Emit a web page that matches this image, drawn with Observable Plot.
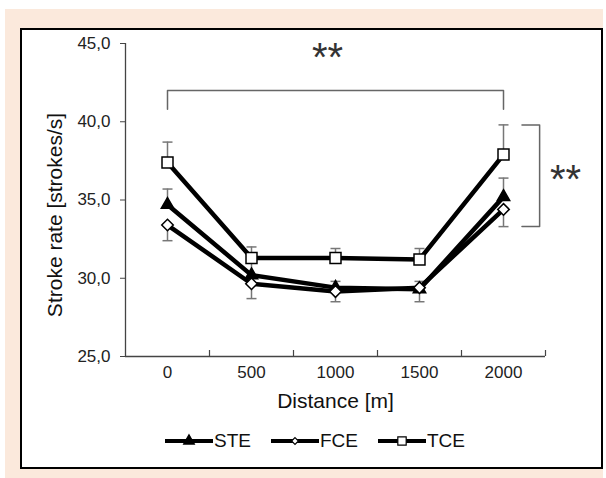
<!DOCTYPE html>
<html><head><meta charset="utf-8">
<script src="https://cdn.jsdelivr.net/npm/d3@7"></script>
<script src="https://cdn.jsdelivr.net/npm/@observablehq/plot@0.6"></script>
<style>
body{margin:0;width:606px;height:478px;overflow:hidden;background:#fff;font-family:"Liberation Sans",Arial,sans-serif;}
#peach{position:absolute;left:5px;top:9px;width:598px;height:469px;background:#fbe9dc;}
#box{position:absolute;left:20px;top:28px;width:579px;height:437px;border:2px solid #000;background:#fff;}
#chart{position:absolute;left:0;top:0;}
#legend{position:absolute;left:143px;top:401px;height:20px;display:flex;align-items:center;font-size:19px;color:#111;}
#legend .item{display:flex;align-items:center;margin-right:20px;}
#legend svg{display:block;}
</style>
</head><body>
<div id="peach"></div>
<div id="box"><div id="chart"></div><div id="legend"></div></div>
<script>
const distances = [0, 500, 1000, 1500, 2000];
const groups = ["STE", "FCE", "TCE"];
const steMean = [34.7, 30.2, 29.4, 29.3, 35.2];
const steErr  = [1.0, 1.0, 0.4, 0.5, 1.2];
const fceMean = [33.4, 29.65, 29.15, 29.4, 34.4];
const fceErr  = [1.0, 0.95, 0.65, 0.9, 1.1];
const tceMean = [37.4, 31.3, 31.3, 31.2, 37.9];
const tceErr  = [1.3, 0.7, 0.6, 0.7, 1.9];
const yTicks = [25, 30, 35, 40, 45];
const errSide = {STE: 1, FCE: -1, TCE: 1};
const symbols = {STE: "triangle", FCE: "diamond2", TCE: "square"};
const radii = {STE: 4.6, FCE: 5.2, TCE: 6.2};
const fills = {STE: "black", FCE: "white", TCE: "white"};
const sigLabel = "**";

const means = {STE: steMean, FCE: fceMean, TCE: tceMean};
const errs = {STE: steErr, FCE: fceErr, TCE: tceErr};
const rows = groups.flatMap(g => distances.map((d, i) => ({
  group: g, d, mean: means[g][i], end: means[g][i] + errSide[g] * errs[g][i]
})));

const step = distances[1] - distances[0];
const last = distances[distances.length - 1];
const bounds = distances.map(d => d + step / 2);
const tceUp = tceMean.map((m, i) => m + tceErr[i]);
const topLevel = d3.max(tceUp) + 2.2;
const topEnd = topLevel - 1.2;
const topBracket = [
  {x: distances[0], y: topEnd}, {x: distances[0], y: topLevel},
  {x: last, y: topLevel}, {x: last, y: topEnd}
];
const rTop = tceUp[tceUp.length - 1];
const rBot = fceMean[fceMean.length - 1] - fceErr[fceErr.length - 1];
const xa = last + step * 0.22, xb = last + step * 0.43;
const rightBracket = [{x: xa, y: rTop}, {x: xb, y: rTop}, {x: xb, y: rBot}, {x: xa, y: rBot}];

const W = 579, H = 395, mT = 13, mB = 69, mL = 103, mR = 56;
const plotH = H - mT - mB;
const capSymbol = {draw(ctx, size) { ctx.moveTo(-5, 0); ctx.lineTo(5, 0); }};
const fmt = v => v.toFixed(1).replace(".", ",");
const FONT = "Liberation Sans, Arial, sans-serif";

const chart = Plot.plot({
  width: W, height: H, marginTop: mT, marginBottom: mB, marginLeft: mL, marginRight: mR,
  style: {fontFamily: FONT, background: "transparent", color: "#222"},
  x: {type: "linear", domain: [distances[0] - step / 2, last + step / 2]},
  y: {domain: [d3.min(yTicks), d3.max(yTicks)]},
  marks: [
    Plot.axisY({ticks: yTicks, tickSize: 5, tickPadding: 10, tickFormat: fmt, fontSize: 17, stroke: "#444", fill: "#222", label: null}),
    Plot.axisX({ticks: distances, tickSize: 0, tickPadding: 9, tickFormat: d => String(d), fontSize: 17, fill: "#222", label: null}),
    Plot.tickX(bounds, {x: d => d, insetTop: plotH - 6, stroke: "#444", strokeWidth: 1.2}),
    Plot.ruleY([d3.min(yTicks)], {stroke: "#444", strokeWidth: 1.3}),
    Plot.ruleX([distances[0] - step / 2], {stroke: "#444", strokeWidth: 1.3}),
    Plot.ruleX(rows, {x: "d", y1: "mean", y2: "end", stroke: "#777", strokeWidth: 1.5}),
    Plot.dot(rows, {x: "d", y: "end", symbol: capSymbol, stroke: "#777", strokeWidth: 1.5, r: 5}),
    Plot.line(rows, {x: "d", y: "mean", z: "group", stroke: "black", strokeWidth: 4.5}),
    ...groups.map(g => Plot.dot(rows.filter(r => r.group === g), {
      x: "d", y: "mean", symbol: symbols[g], r: radii[g], fill: fills[g], stroke: "black", strokeWidth: 1.5
    })),
    Plot.line(topBracket, {x: "x", y: "y", stroke: "#666", strokeWidth: 1.5}),
    Plot.line(rightBracket, {x: "x", y: "y", stroke: "#666", strokeWidth: 1.5}),
    Plot.text([sigLabel], {x: (distances[0] + last) / 2, y: topLevel, text: d => d, dx: -8, dy: -32, fontSize: 40, fill: "#333", lineAnchor: "middle"}),
    Plot.text([sigLabel], {x: last, y: (rTop + rBot) / 2, text: d => d, dx: 62, dy: 4, fontSize: 40, fill: "#333", lineAnchor: "middle"}),
    Plot.text(["Distance [m]"], {frameAnchor: "bottom", dy: 45, fontSize: 21, fill: "#111", lineAnchor: "middle"}),
    Plot.text(["Stroke rate [strokes/s]"], {frameAnchor: "left", textAnchor: "middle", rotate: -90, dx: -70, dy: 15, fontSize: 21, fill: "#111", lineAnchor: "middle"})
  ]
});
document.getElementById("chart").appendChild(chart);

const legend = d3.select("#legend");
for (const g of groups) {
  const item = legend.append("div").attr("class", "item");
  const svg = item.append("svg").attr("width", 48).attr("height", 16);
  svg.append("line").attr("x1", 0).attr("x2", 48).attr("y1", 8).attr("y2", 8).attr("stroke", "black").attr("stroke-width", 4);
  const sym = {STE: d3.symbolTriangle, FCE: d3.symbolDiamond2, TCE: d3.symbolSquare}[g];
  const size = {STE: 50, FCE: 30, TCE: 70}[g];
  svg.append("path").attr("transform", "translate(24,8)").attr("d", d3.symbol(sym, size)())
    .attr("fill", fills[g]).attr("stroke", "black").attr("stroke-width", 1.2);
  item.append("span").text(g).style("margin-left", "1px");
}
</script>
</body></html>
